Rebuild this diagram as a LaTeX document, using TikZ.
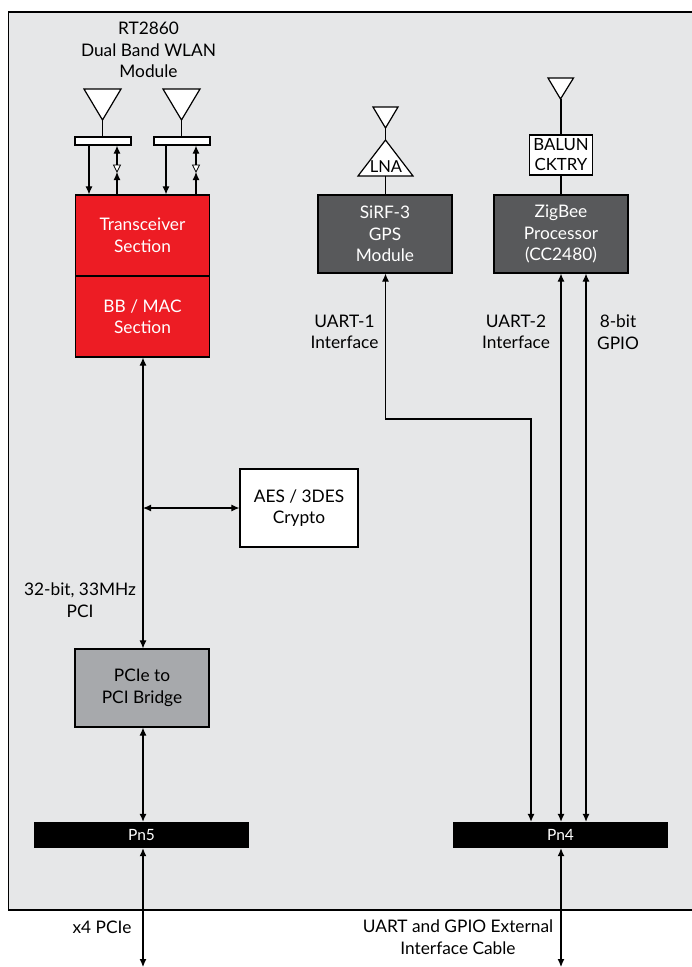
\documentclass[tikz,border=0pt]{standalone}
\usepackage{fontspec}
\setmainfont{Lato}
\usetikzlibrary{arrows.meta}
\definecolor{panelgray}{HTML}{E6E7E8}
\definecolor{chipred}{HTML}{ED1C24}
\definecolor{chipdark}{HTML}{58595B}
\definecolor{chipgray}{HTML}{A7A9AC}
\tikzset{
  every node/.style={font=\fontsize{17.3}{21.5}\selectfont, align=center, inner sep=0pt},
  chip/.style={draw=black, line width=1.2pt, minimum width=#1, minimum height=78pt},
  chip/.default=134pt,
  conn/.style={black, line width=1.1pt},
  sgl/.style={conn, -{Latex[length=8pt,width=7pt]}},
  dbl/.style={conn, {Latex[length=8pt,width=7pt]}-{Latex[length=8pt,width=7pt]}},
  aerial/.style={draw=black, fill=white, line width=1.2pt, line join=miter},
  rfbar/.style={draw=black, fill=white, line width=1.2pt, minimum width=56pt, minimum height=8pt},
  pinhdr/.style={fill=black, text=white, minimum width=215pt, minimum height=26pt, font=\fontsize{15.5}{20}\selectfont}
}
\begin{document}
\begin{tikzpicture}[x=1pt,y=-1pt]
  \useasboundingbox (0,0) rectangle (692,967);
  \fill[panelgray] (8.5,12) rectangle (692,910);
  \draw[line width=1.3pt] (692,12) -- (8.5,12) -- (8.5,910) -- (692,910);

  % WLAN module
  \node (title) at (148.5,50) {RT2860\\Dual Band WLAN\\Module};
  \node[chip, fill=chipred, text=white, minimum height=81pt] (trx) at (142.5,235.5) {Transceiver\\Section};
  \node[chip, fill=chipred, text=white, minimum height=81pt] (bbmac) at (142.5,316.5) {BB / MAC\\Section};
  \node[rfbar] (barA) at (103,141) {};
  \node[rfbar] (barB) at (182,141) {};
  \draw[aerial] (84,89) -- (121,89) -- (102.5,120) -- cycle;
  \draw[aerial] (163,89) -- (200,89) -- (181.5,120) -- cycle;
  \coordinate (antA) at (102.5,120);
  \coordinate (antB) at (181.5,120);
  \draw[conn] (antA) -- (antA |- barA.north);
  \draw[conn] (antB) -- (antB |- barB.north);
  \coordinate (swA) at (117,165);
  \coordinate (swB) at (196,165);
  \draw[sgl] (barA.south -| 89,0) -- (trx.north -| 89,0);
  \draw[sgl] (barB.south -| 166,0) -- (trx.north -| 166,0);
  \draw[sgl] (swA) -- (swA |- barA.south);
  \draw[sgl] (swB) -- (swB |- barB.south);
  \draw[sgl] (trx.north -| swA) -- (117,172);
  \draw[sgl] (trx.north -| swB) -- (196,172);
  \draw[aerial, line width=.8pt] (113.5,165) -- (120.5,165) -- (117,172) -- cycle;
  \draw[aerial, line width=.8pt] (192.5,165) -- (199.5,165) -- (196,172) -- cycle;

  % GPS
  \node[chip, fill=chipdark, text=white] (gps) at (385,234) {SiRF-3\\GPS\\Module};
  \draw[aerial] (373,107) -- (398,107) -- (385.5,128) -- cycle;
  \draw[aerial] (385.5,140) -- (413,176) -- (358,176) -- cycle;
  \node[font=\fontsize{16.5}{20}\selectfont] (lna) at (386,167) {LNA};
  \coordinate (antG) at (385.5,128);
  \coordinate (lnaTop) at (385.5,140);
  \coordinate (lnaBase) at (385.5,176);
  \draw[conn] (antG) -- (lnaTop);
  \draw[conn] (lnaBase) -- (gps.north -| lnaBase);

  % ZigBee
  \node[chip, fill=chipdark, text=white] (zig) at (561,234) {ZigBee\\Processor\\(CC2480)};
  \node[draw=black, fill=white, line width=1.2pt, minimum width=63pt, minimum height=40pt,
        font=\fontsize{16.8}{20}\selectfont] (balun) at (561,155) {BALUN\\CKTRY};
  \draw[aerial] (548,78) -- (573.5,78) -- (560.5,99) -- cycle;
  \coordinate (antZ) at (561,99);
  \draw[conn] (antZ) -- (balun.north);
  \draw[conn] (balun.south) -- (zig.north);

  % middle of the board
  \node[chip=118pt, fill=white] (crypto) at (299,508) {AES / 3DES\\Crypto};
  \node[chip, fill=chipgray] (bridge) at (142,688) {PCIe to\\PCI Bridge};
  \node[pinhdr] (pn5) at (141.5,835) {Pn5};
  \node[pinhdr] (pn4) at (560.5,835) {Pn4};
  \coordinate (busTap) at (143,508);
  \coordinate (pcieEnd) at (143,967);
  \coordinate (cableEnd) at (561,967);
  \coordinate (uartBend) at (385.5,419);

  \draw[dbl] (bbmac.south -| busTap) -- (bridge.north -| busTap);
  \draw[dbl] (busTap) -- (crypto.west);
  \draw[dbl] (bridge.south -| busTap) -- (pn5.north -| busTap);
  \draw[dbl] (pn5.south -| busTap) -- (pcieEnd);
  \draw[dbl] (pn4.south -| cableEnd) -- (cableEnd);
  \draw[dbl] (gps.south -| uartBend) -- (uartBend) -| (pn4.north -| 531,0);
  \draw[dbl] (zig.south -| cableEnd) -- (pn4.north -| cableEnd);
  \draw[dbl] (zig.south -| 586,0) -- (pn4.north -| 586,0);

  % labels
  \node (uart1) at (344.5,332) {UART-1\\Interface};
  \node (uart2) at (516,332) {UART-2\\Interface};
  \node (gpio) at (618,332) {8-bit\\GPIO};
  \node (pci) at (80,600) {32-bit, 33MHz\\PCI};
  \node (x4) at (102,927) {x4 PCIe};
  \node (cable) at (458,937) {UART and GPIO External\\Interface Cable};
\end{tikzpicture}
\end{document}
